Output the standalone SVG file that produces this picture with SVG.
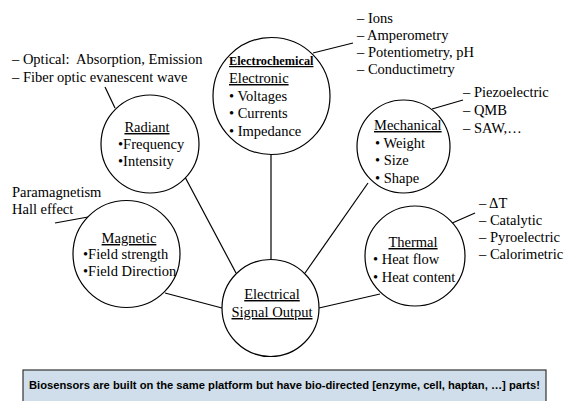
<svg xmlns="http://www.w3.org/2000/svg" width="564" height="401" viewBox="0 0 564 401">
<style>
.t{font-family:"Liberation Serif","Times New Roman",serif;font-size:14.5px;fill:#000}
.u{text-decoration:underline}
.b{font-weight:bold;font-size:12.3px}
.c{fill:#fff;stroke:#000;stroke-width:1.2}
.l{stroke:#000;stroke-width:1.2;fill:none}
.m{text-anchor:middle}
</style>
<rect width="564" height="401" fill="#fff"/>
<g id="connectors">
<line class="l" x1="271" y1="155" x2="271" y2="260"/>
<line class="l" x1="185" y1="177" x2="236" y2="273"/>
<line class="l" x1="105" y1="87" x2="115" y2="108"/>
<line class="l" x1="165" y1="293" x2="222" y2="308"/>
<line class="l" x1="55" y1="223" x2="88" y2="217"/>
<line class="l" x1="368" y1="183" x2="305" y2="273"/>
<line class="l" x1="432" y1="109" x2="463" y2="100"/>
<line class="l" x1="313" y1="53" x2="353" y2="43"/>
<line class="l" x1="319" y1="308" x2="380" y2="294"/>
<line class="l" x1="450" y1="224" x2="475" y2="213"/>
</g>
<g id="electrochemical">
<circle class="c" cx="271.5" cy="96" r="58.5"/>
<text class="t b u" x="229" y="65">Electrochemical</text>
<text class="t u" x="229" y="83">Electronic</text>
<text class="t" x="229" y="101">• Voltages</text>
<text class="t" x="229" y="118">• Currents</text>
<text class="t" x="229" y="136">• Impedance</text>
</g>
<g id="electrochemical-list">
<text class="t" x="357" y="23">– Ions</text>
<text class="t" x="357" y="40">– Amperometry</text>
<text class="t" x="357" y="57">– Potentiometry, pH</text>
<text class="t" x="357" y="74">– Conductimetry</text>
</g>
<g id="radiant">
<circle class="c" cx="150" cy="144" r="49"/>
<text class="t u m" x="147" y="132">Radiant</text>
<text class="t" x="118" y="149">•Frequency</text>
<text class="t" x="118" y="166">•Intensity</text>
</g>
<g id="radiant-list">
<text class="t" x="12" y="64">– Optical:&#160; Absorption, Emission</text>
<text class="t" x="12" y="82">– Fiber optic evanescent wave</text>
</g>
<g id="mechanical">
<circle class="c" cx="403.5" cy="146.5" r="46.5"/>
<text class="t u" x="374" y="130">Mechanical</text>
<text class="t" x="375" y="148">• Weight</text>
<text class="t" x="375" y="165">• Size</text>
<text class="t" x="375" y="183">• Shape</text>
</g>
<g id="mechanical-list">
<text class="t" x="463" y="97">– Piezoelectric</text>
<text class="t" x="463" y="115">– QMB</text>
<text class="t" x="463" y="133">– SAW,…</text>
</g>
<g id="magnetic">
<circle class="c" cx="126.5" cy="254" r="53.5"/>
<text class="t u m" x="129" y="243">Magnetic</text>
<text class="t" x="83" y="259">•Field strength</text>
<text class="t" x="83" y="276">•Field Direction</text>
</g>
<g id="magnetic-list">
<text class="t" x="12" y="197">Paramagnetism</text>
<text class="t" x="12" y="214">Hall effect</text>
</g>
<g id="thermal">
<circle class="c" cx="415" cy="256" r="50"/>
<text class="t u m" x="413" y="247">Thermal</text>
<text class="t" x="373" y="264">• Heat flow</text>
<text class="t" x="373" y="282">• Heat content</text>
</g>
<g id="thermal-list">
<text class="t" x="479" y="208">– ΔT</text>
<text class="t" x="479" y="225">– Catalytic</text>
<text class="t" x="479" y="242">– Pyroelectric</text>
<text class="t" x="479" y="259">– Calorimetric</text>
</g>
<g id="electrical">
<circle class="c" cx="270.5" cy="308" r="48.5"/>
<text class="t u m" x="272" y="299">Electrical</text>
<text class="t u m" x="272" y="317">Signal Output</text>
</g>
<g id="note">
<rect x="23" y="370" width="523" height="32" fill="#cfdeea" stroke="#333" stroke-width="1.2"/>
<text x="284.5" y="389" text-anchor="middle" font-family="Liberation Sans, Arial, sans-serif" font-weight="bold" font-size="11.2" fill="#000">Biosensors are built on the same platform but have bio-directed [enzyme, cell, haptan, …] parts!</text>
</g>
</svg>
